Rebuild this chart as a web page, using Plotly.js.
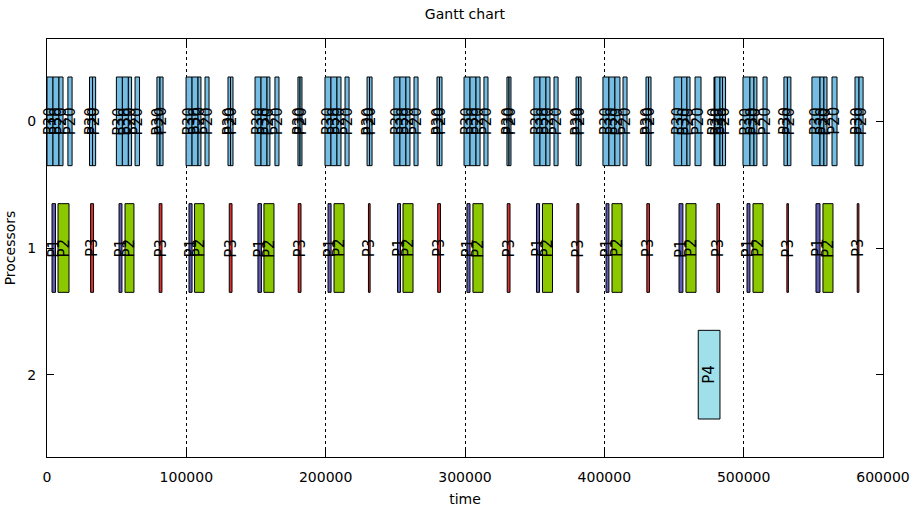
<!DOCTYPE html>
<html>
<head>
<meta charset="utf-8">
<script src="https://cdn.plot.ly/plotly-3.0.1.min.js"></script>
<style>html,body{margin:0;padding:0;background:#fff;}#chart{width:917px;height:508px;}</style>
</head>
<body>
<div id="chart"></div>
<script>
// Processor 0 tasks
const p0Start = [
  0, 4300, 8600, 15000, 30500, 32700,
  49800, 54100, 58400, 63200, 78900, 81100,
  99800, 104100, 108400, 113400, 129900, 131700,
  149300, 153600, 157900, 163600, 180100, 181600,
  199500, 203800, 208100, 213900, 229700, 231500,
  249000, 253300, 257600, 263400, 279900, 281700,
  299300, 303600, 307900, 313600, 330100, 331600,
  349500, 353800, 358100, 363900, 379700, 381500,
  399000, 403300, 407600, 413400, 429900, 431700,
  450000, 455500, 459300, 465100, 478700, 479400, 483000, 484800,
  499500, 504500, 507400, 513900, 528900, 531400,
  549000, 554800, 557600, 563400, 579900, 582800
];
const p0End = [
  4300, 8600, 11500, 18000, 32700, 34900,
  54100, 58400, 60700, 66400, 81100, 83300,
  104100, 108400, 110500, 116300, 131700, 133500,
  153600, 157900, 160000, 166500, 181600, 183000,
  203800, 208100, 211000, 216800, 231500, 233300,
  253300, 257600, 260500, 266300, 281700, 283500,
  303600, 307900, 310800, 316500, 331600, 333000,
  353800, 358100, 361000, 366800, 381500, 383300,
  403300, 407600, 411200, 416300, 431700, 433500,
  455500, 459300, 461500, 469400, 479100, 483000, 484800, 487000,
  504500, 507400, 509500, 516800, 531400, 533900,
  554800, 557600, 559800, 567000, 582800, 585700
];
const p0Label = [
  "P30","P30","P20","P20","P30","P20",
  "P30","P30","P20","P20","P30","P20",
  "P30","P30","P20","P20","P30","P20",
  "P30","P30","P20","P20","P30","P20",
  "P30","P30","P20","P20","P30","P20",
  "P30","P30","P20","P20","P30","P20",
  "P30","P30","P20","P20","P30","P20",
  "P30","P30","P20","P20","P30","P20",
  "P30","P30","P20","P20","P30","P20",
  "P30","P30","P20","P20","P30","P20","P30","P20",
  "P30","P30","P20","P20","P30","P20",
  "P30","P30","P20","P20","P30","P20"
];
// Processor 1 tasks
const p1Start = [3600, 51700, 101900, 151400, 201700, 251600, 301400, 351300, 401200, 453600, 502400, 551900];
const p1End   = [6100, 53800, 104100, 153900, 203900, 253700, 303600, 353500, 403300, 456400, 504500, 554800];
const p2Start = [7900, 56000, 105900, 155700, 206000, 255500, 305700, 355600, 405500, 458600, 506700, 556900];
const p2End   = [15800, 62400, 112700, 162900, 213200, 262700, 312900, 362800, 412700, 465800, 513900, 564100];
const p3Start = [31300, 80500, 130800, 180300, 230700, 280400, 330300, 380300, 430500, 480800, 531000, 581500];
const p3End   = [33400, 82500, 132800, 182300, 231900, 282400, 332300, 381700, 432400, 482700, 532100, 582700];
// Processor 2 tasks
const p4Start = [467400];
const p4End   = [483000];

const xTicks = [0, 100000, 200000, 300000, 400000, 500000, 600000];
const yTicks = [0, 1, 2];

function barTrace(starts, ends, row, color) {
  return {
    type: 'bar', orientation: 'h',
    base: starts,
    x: starts.map((s, i) => ends[i] - s),
    y: starts.map(() => row),
    width: 0.7,
    marker: {color: color, line: {color: '#000', width: 1}},
    hoverinfo: 'none', showlegend: false
  };
}

const traces = [
  barTrace(p0Start, p0End, 0, '#76bde3'),
  barTrace(p1Start, p1End, 1, '#5c5cb4'),
  barTrace(p2Start, p2End, 1, '#8cc800'),
  barTrace(p3Start, p3End, 1, '#e03030'),
  barTrace(p4Start, p4End, 2, '#a0e0ea')
];

const annotations = [];
function addLabels(starts, ends, labels, row) {
  starts.forEach((s, i) => {
    annotations.push({
      x: (s + ends[i]) / 2, y: row, xref: 'x', yref: 'y',
      text: typeof labels === 'string' ? labels : labels[i],
      textangle: -90, showarrow: false,
      font: {family: 'DejaVu Sans', size: 15, color: '#000'}
    });
  });
}
addLabels(p0Start, p0End, p0Label, 0);
addLabels(p1Start, p1End, 'P1', 1);
addLabels(p2Start, p2End, 'P2', 1);
addLabels(p3Start, p3End, 'P3', 1);
addLabels(p4Start, p4End, 'P4', 2);

const layout = {
  width: 917, height: 508,
  margin: {l: 47, r: 34, t: 39, b: 51},
  paper_bgcolor: '#fff', plot_bgcolor: '#fff',
  font: {family: 'DejaVu Sans', size: 14, color: '#000'},
  title: {text: 'Gantt chart', x: 0.507, xanchor: 'center', y: 0.972, yanchor: 'middle', yref: 'container', font: {size: 14}},
  barmode: 'overlay',
  xaxis: {
    range: [0, 600000], tickvals: xTicks, ticktext: xTicks.map(String),
    ticks: 'inside', ticklen: 7, tickcolor: '#000', mirror: 'ticks',
    ticklabelstandoff: 7,
    showline: true, linecolor: '#000', linewidth: 1,
    showgrid: true, gridcolor: '#000', griddash: 'dot', gridwidth: 1,
    zeroline: false,
    title: {text: 'time', standoff: 10, font: {size: 14}}
  },
  yaxis: {
    range: [2.65, -0.65], tickvals: yTicks, ticktext: yTicks.map(String),
    ticks: 'inside', ticklen: 7, tickcolor: '#000', mirror: 'ticks',
    ticklabelstandoff: 7,
    showline: true, linecolor: '#000', linewidth: 1,
    showgrid: false, zeroline: false,
    title: {text: 'Processors', standoff: 8, font: {size: 14}}
  },
  annotations: annotations
};

Plotly.newPlot('chart', traces, layout, {staticPlot: true, displayModeBar: false});
</script>
</body>
</html>
